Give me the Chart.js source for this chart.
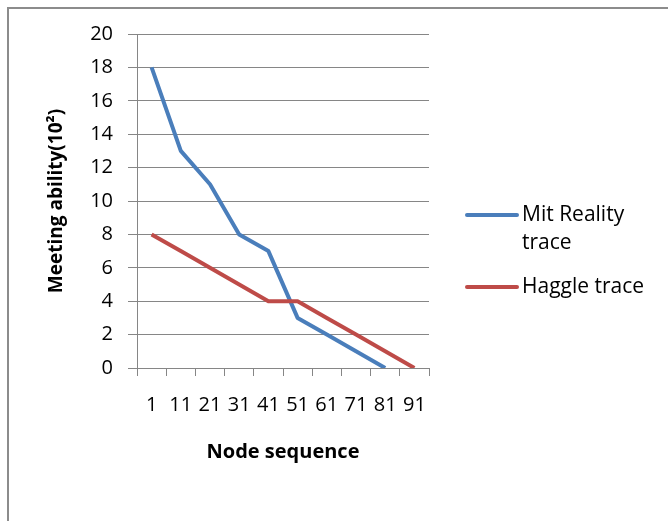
<!DOCTYPE html>
<html>
<head>
<meta charset="utf-8">
<script src="https://cdn.jsdelivr.net/npm/chart.js@4/dist/chart.umd.min.js"></script>
<style>
    body { margin: 0; background: #ffffff; }
    #chart { display: block; }
</style>
</head>
<body>
<canvas id="chart" width="668" height="521"></canvas>
<script>
// Data
const nodeLabels = ['1', '11', '21', '31', '41', '51', '61', '71', '81', '91'];
const mitReality = [18, 13, 11, 8, 7, 3, 2, 1, 0, null];
const haggle = [8, 7, 6, 5, 4, 4, 3, 2, 1, 0];
const seriesNames = ['Mit Reality trace', 'Haggle trace'];
const yTicks = [0, 2, 4, 6, 8, 10, 12, 14, 16, 18, 20];

const FONT = "'Open Sans', sans-serif";
const GRID = '#868686';
const colors = ['#4a7ebb', '#be4b48'];

// Frame + legend drawn on the canvas (legend text comes from the dataset labels)
const framePlugin = {
    id: 'frame',
    beforeDraw(chart) {
        const ctx = chart.ctx;
        ctx.save();
        ctx.strokeStyle = '#8c8c8c';
        ctx.lineWidth = 2;
        ctx.beginPath();
        ctx.moveTo(8, 521);
        ctx.lineTo(8, 8);
        ctx.lineTo(668, 8);
        ctx.stroke();
        ctx.restore();
    },
    afterDraw(chart) {
        const ctx = chart.ctx;
        const rows = [
            { y: 215, lines: ['Mit Reality', 'trace'] },
            { y: 287, lines: ['Haggle trace'] }
        ];
        ctx.save();
        ctx.font = '21px ' + FONT;
        ctx.fillStyle = '#000000';
        ctx.textBaseline = 'middle';
        chart.data.datasets.forEach((ds, i) => {
            const r = rows[i];
            ctx.strokeStyle = ds.borderColor;
            ctx.lineWidth = 4;
            ctx.lineCap = 'round';
            ctx.beginPath();
            ctx.moveTo(467, r.y);
            ctx.lineTo(517, r.y);
            ctx.stroke();
            r.lines.forEach((t, j) => ctx.fillText(t, 522, r.y + j * 28));
        });
        ctx.restore();
    }
};

new Chart(document.getElementById('chart'), {
    type: 'line',
    data: {
        labels: nodeLabels,
        datasets: [
            // red series is painted over the blue one, like in the original
            { label: seriesNames[0], data: mitReality, borderColor: colors[0], backgroundColor: colors[0], order: 1 },
            { label: seriesNames[1], data: haggle, borderColor: colors[1], backgroundColor: colors[1], order: 0 }
        ]
    },
    options: {
        responsive: false,
        animation: false,
        events: [],
        elements: {
            line: { borderWidth: 4, tension: 0, borderCapStyle: 'butt', borderJoinStyle: 'round' },
            point: { radius: 0 }
        },
        layout: { padding: { left: 45, top: 34, right: 239, bottom: 57 } },
        plugins: { legend: { display: false }, tooltip: { enabled: false } },
        scales: {
            x: {
                type: 'category',
                offset: true,
                grid: { drawOnChartArea: false, drawTicks: true, tickLength: 8, offset: true, color: GRID },
                border: { color: GRID, width: 1 },
                ticks: { color: '#000000', font: { family: FONT, size: 20 }, padding: 17, maxRotation: 0, autoSkip: false },
                title: { display: true, text: 'Node sequence', color: '#000000', font: { family: FONT, size: 20, weight: 'bold' }, padding: 0 },
                afterFit(scale) { scale.height = 96; }
            },
            y: {
                min: 0,
                max: 20,
                afterBuildTicks(scale) { scale.ticks = yTicks.map(v => ({ value: v })); },
                grid: { color: GRID, tickLength: 9 },
                border: { color: GRID, width: 1 },
                ticks: { color: '#000000', font: { family: FONT, size: 20 }, padding: 15 },
                title: { display: true, text: 'Meeting ability(10²)', color: '#000000', font: { family: FONT, size: 19, weight: 'bold' }, padding: 0 },
                afterFit(scale) { scale.width = 92; }
            }
        }
    },
    plugins: [framePlugin]
});
</script>
</body>
</html>
